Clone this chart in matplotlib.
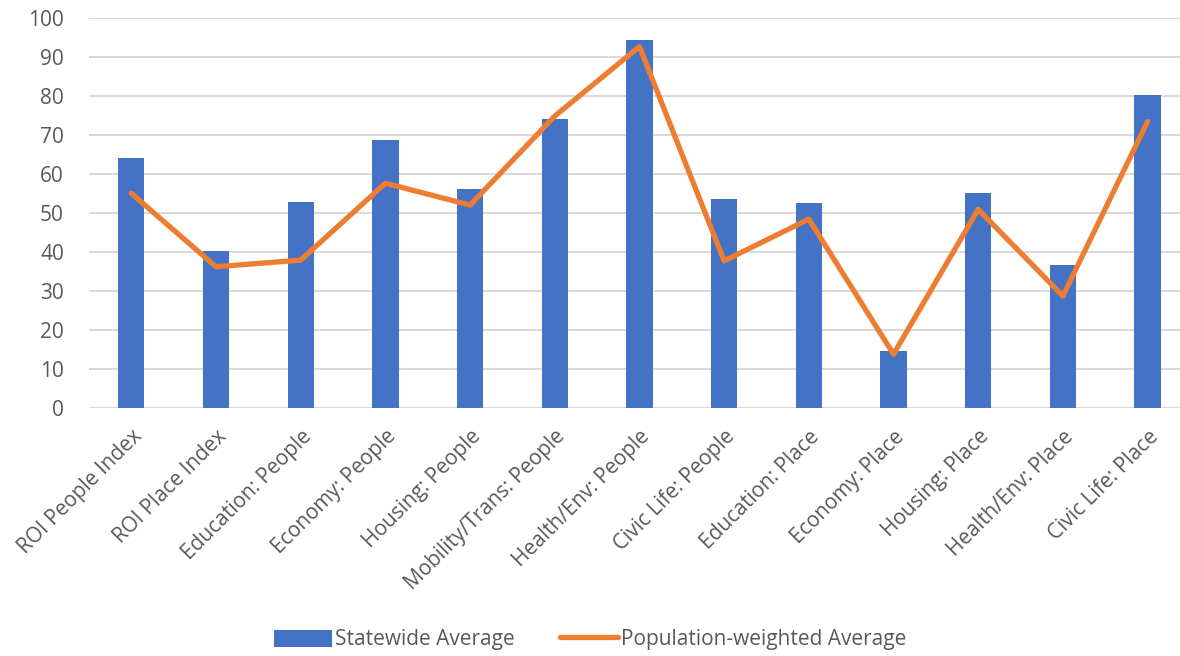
import matplotlib
matplotlib.use("Agg")
import matplotlib.pyplot as plt
import numpy as np

categories = [
    "ROI People Index", "ROI Place Index", "Education: People", "Economy: People",
    "Housing: People", "Mobility/Trans: People", "Health/Env: People",
    "Civic Life: People", "Education: Place", "Economy: Place", "Housing: Place",
    "Health/Env: Place", "Civic Life: Place",
]
statewide_avg = [64.1, 40.3, 52.9, 68.7, 56.2, 74.0, 94.3, 53.5, 52.6, 14.6, 55.2, 36.6, 80.2]
pop_weighted_avg = [55.0, 36.2, 37.9, 57.6, 52.0, 74.8, 92.6, 37.7, 48.4, 13.8, 50.9, 28.7, 73.4]
y_ticks = list(range(0, 101, 10))

BLUE = "#4472C4"
ORANGE = "#ED7D31"
GREY_TXT = "#595959"
FS = 15

plt.rcParams["font.family"] = ["Open Sans", "DejaVu Sans"]

fig = plt.figure(figsize=(11.8, 6.56), dpi=100)
ax = fig.add_axes([0.0754, 0.378, 0.933, 0.595])

x = np.arange(len(categories))
bars = ax.bar(x, statewide_avg, width=0.31, color=BLUE, zorder=2)
line, = ax.plot(x, pop_weighted_avg, color=ORANGE, lw=3.8, solid_capstyle="round",
                solid_joinstyle="round", zorder=3)

ax.set_xlim(-0.5, len(categories) - 0.5)
ax.set_ylim(0, 100)
ax.set_yticks(y_ticks)
ax.yaxis.grid(True, color="#D9D9D9", lw=1.4, zorder=0)
ax.set_axisbelow(True)
for s in ax.spines.values():
    s.set_visible(False)

ax.set_xticks(x)
ax.set_xticklabels(categories, rotation=45, ha="right", rotation_mode="anchor",
                   fontsize=FS, color=GREY_TXT)
ax.tick_params(axis="x", length=0, pad=13)
ax.tick_params(axis="y", length=0, pad=18, labelsize=FS, labelcolor=GREY_TXT)

fig.legend([bars, line], ["Statewide Average", "Population-weighted Average"],
           loc="lower center", bbox_to_anchor=(0.5, -0.02), ncol=2, frameon=False,
           fontsize=FS, labelcolor=GREY_TXT, handlelength=2.8, handleheight=0.9,
           handletextpad=0.1, columnspacing=2.2)

fig.savefig("out.png", dpi=100)
